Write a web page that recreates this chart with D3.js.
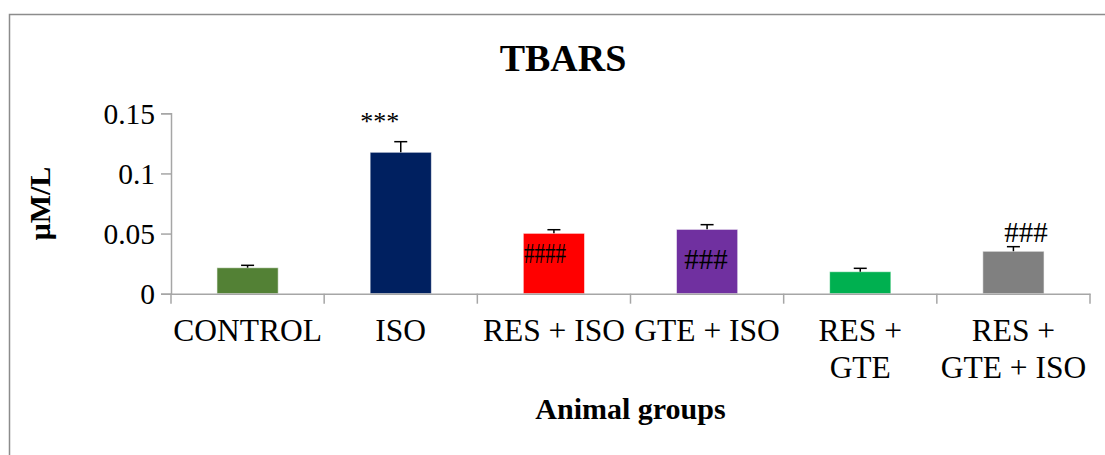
<!DOCTYPE html>
<html>
<head>
<meta charset="utf-8">
<script src="https://cdn.jsdelivr.net/npm/d3@7"></script>
<style>
  html, body { margin: 0; padding: 0; background: #fff; }
  svg { display: block; }
  text { font-family: "Liberation Serif", "Times New Roman", serif; fill: #000; }
</style>
</head>
<body>
<svg id="chart" width="1105" height="455"></svg>
<script>
// TBARS levels per animal group (mean and error, µM/L)
const groups = ["CONTROL", "ISO", "RES + ISO", "GTE + ISO", "RES + GTE", "RES + GTE + ISO"];
const groupLines = [["CONTROL"], ["ISO"], ["RES + ISO"], ["GTE + ISO"], ["RES +", "GTE"], ["RES +", "GTE + ISO"]];
const means = [0.0216, 0.1176, 0.0502, 0.0535, 0.0183, 0.0353];
const errors = [0.0020, 0.0088, 0.0030, 0.0039, 0.0028, 0.0038];
const colors = ["#538135", "#002060", "#FF0000", "#7030A0", "#00B050", "#808080"];
const marks = ["", "***", "####", "###", "", "###"];
const yTicks = [0, 0.05, 0.1, 0.15];
const yTickLabels = ["0", "0.05", "0.1", "0.15"];

const svg = d3.select("#chart");

// chart frame (runs off the right and bottom edges)
svg.append("rect")
  .attr("x", 9.5).attr("y", 14.5)
  .attr("width", 1200).attr("height", 500)
  .attr("fill", "none").attr("stroke", "#8c8c8c").attr("stroke-width", 1.5);

const plot = { left: 171, right: 1090, top: 113.3, bottom: 293.7 };

const x = d3.scaleBand().domain(groups).range([plot.left, plot.right]).padding(0);
const y = d3.scaleLinear().domain([0, 0.15]).range([plot.bottom, plot.top]);
const barW = x.bandwidth() * 0.4;
const axisColor = "#a6a6a6";

// y axis
const yAxis = d3.axisLeft(y).tickValues(yTicks)
  .tickFormat((d, i) => yTickLabels[i]).tickSize(10).tickPadding(6);
const gy = svg.append("g").attr("transform", `translate(${plot.left},0)`).call(yAxis);
gy.select(".domain").attr("stroke", axisColor).attr("stroke-width", 1.5);
gy.selectAll(".tick line").attr("stroke", axisColor).attr("stroke-width", 1.5);
gy.selectAll(".tick text")
  .attr("font-size", 29.5).attr("fill", "#000")
  .style("font-family", '"Liberation Serif", "Times New Roman", serif')
  .attr("dy", "0.34em");

// bars
svg.append("g").selectAll("rect").data(groups).join("rect")
  .attr("x", d => x(d) + (x.bandwidth() - barW) / 2)
  .attr("y", (d, i) => y(means[i]))
  .attr("width", barW)
  .attr("height", (d, i) => y(0) - y(means[i]))
  .attr("fill", (d, i) => colors[i])
  .attr("stroke", "rgba(255,255,255,0.6)").attr("stroke-width", 1);

// error bars
const eb = svg.append("g").attr("stroke", "#000").attr("stroke-width", 1.5);
groups.forEach((g, i) => {
  const cx = x(g) + x.bandwidth() / 2;
  eb.append("line").attr("x1", cx).attr("x2", cx)
    .attr("y1", y(means[i])).attr("y2", y(means[i] + errors[i]));
  eb.append("line").attr("x1", cx - 6.5).attr("x2", cx + 6.5)
    .attr("y1", y(means[i] + errors[i])).attr("y2", y(means[i] + errors[i]));
});

// x axis with category dividers
const xAxis = d3.axisBottom(x).tickSize(0).tickFormat("");
const gx = svg.append("g").attr("transform", `translate(0,${plot.bottom})`).call(xAxis);
gx.select(".domain").attr("stroke", axisColor).attr("stroke-width", 1.5);
const dividers = groups.map(g => x(g)).concat([plot.right]);
gx.selectAll(".divider").data(dividers).join("line")
  .attr("class", "divider")
  .attr("x1", d => d).attr("x2", d => d)
  .attr("y1", 0).attr("y2", 10)
  .attr("stroke", axisColor).attr("stroke-width", 1.5);

// category labels
groups.forEach((g, i) => {
  const t = svg.append("text")
    .attr("x", x(g) + x.bandwidth() / 2)
    .attr("y", 341)
    .attr("text-anchor", "middle")
    .attr("font-size", 31.5);
  groupLines[i].forEach((line, j) => {
    t.append("tspan").attr("x", x(g) + x.bandwidth() / 2)
      .attr("dy", j === 0 ? 0 : 36.5).text(line);
  });
});

// significance marks, placed relative to each bar
const markStyle = {
  "***": { size: 26 },
  "####": { size: 29, length: 42 },
  "###": { size: 29 }
};
const markOffsets = [null, { dx: -21, base: "err", dy: -12 },
  { dx: -9, base: "bar", dy: 29.5 }, { dx: -1, base: "bar", dy: 39.5 },
  null, { dx: 12.5, base: "err", dy: -4.5 }];
groups.forEach((g, i) => {
  if (!marks[i]) return;
  const o = markOffsets[i];
  const ref = o.base === "err" ? y(means[i] + errors[i]) : y(means[i]);
  const st = markStyle[marks[i]];
  const t = svg.append("text")
    .attr("x", x(g) + x.bandwidth() / 2 + o.dx)
    .attr("y", ref + o.dy)
    .attr("text-anchor", "middle")
    .attr("font-size", st.size)
    .text(marks[i]);
  if (st.length) t.attr("textLength", st.length).attr("lengthAdjust", "spacingAndGlyphs");
});

// title and axis titles
svg.append("text").attr("x", 563).attr("y", 71)
  .attr("text-anchor", "middle").attr("font-size", 38).attr("font-weight", "bold")
  .text("TBARS");

svg.append("text").attr("x", (plot.left + plot.right) / 2).attr("y", 419)
  .attr("text-anchor", "middle").attr("font-size", 30).attr("font-weight", "bold")
  .text("Animal groups");

svg.append("text")
  .attr("transform", `translate(50,${(plot.top + plot.bottom) / 2}) rotate(-90)`)
  .attr("text-anchor", "middle").attr("font-size", 30).attr("font-weight", "bold")
  .text("μM/L");
</script>
</body>
</html>
